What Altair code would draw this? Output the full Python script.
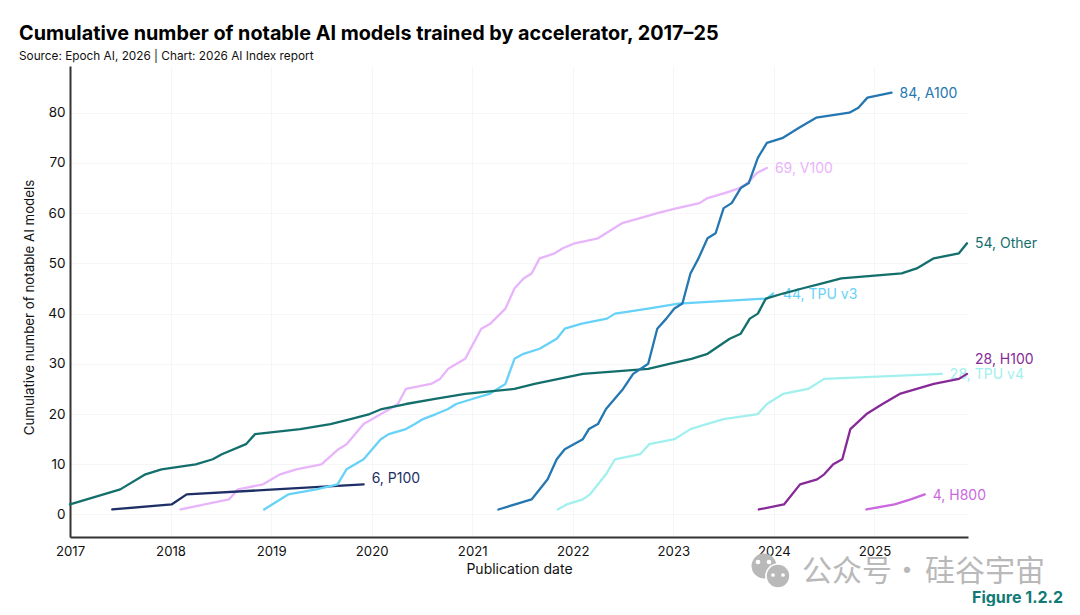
import altair as alt
import pandas as pd

TITLE = "Cumulative number of notable AI models trained by accelerator, 2017–25"
SUBTITLE = "Source: Epoch AI, 2026 | Chart: 2026 AI Index report"
FONT = "Inter"

v100_x = [2018.10, 2018.34, 2018.58, 2018.67, 2018.92, 2019.09, 2019.25, 2019.50, 2019.67, 2019.75, 2019.92, 2020.18, 2020.26, 2020.34, 2020.59, 2020.68, 2020.76, 2020.93, 2021.09, 2021.18, 2021.33, 2021.42, 2021.51, 2021.59, 2021.67, 2021.82, 2021.90, 2022.02, 2022.25, 2022.49, 2022.67, 2022.84, 2023.04, 2023.26, 2023.34, 2023.51, 2023.66, 2023.74, 2023.83, 2023.93]
v100_y = [1, 2, 3, 5, 6, 8, 9, 10, 13, 14, 18, 21, 22, 25, 26, 27, 29, 31, 37, 38, 41, 45, 47, 48, 51, 52, 53, 54, 55, 58, 59, 60, 61, 62, 63, 64, 65, 66, 68, 69]
p100_x = [2017.42, 2018.01, 2018.16, 2019.04, 2019.92]
p100_y = [1, 2, 4, 5, 6]
v4_x = [2021.85, 2021.94, 2022.10, 2022.17, 2022.33, 2022.42, 2022.67, 2022.76, 2023.01, 2023.17, 2023.33, 2023.50, 2023.84, 2023.93, 2024.09, 2024.34, 2024.50, 2025.67]
v4_y = [1, 2, 3, 4, 8, 11, 12, 14, 15, 17, 18, 19, 20, 22, 24, 25, 27, 28]
v3_x = [2018.93, 2019.17, 2019.45, 2019.66, 2019.75, 2019.92, 2020.09, 2020.17, 2020.34, 2020.43, 2020.51, 2020.64, 2020.76, 2020.84, 2021.00, 2021.17, 2021.25, 2021.33, 2021.42, 2021.51, 2021.67, 2021.84, 2021.92, 2022.09, 2022.34, 2022.42, 2022.75, 2023.05, 2023.93, 2023.99]
v3_y = [1, 4, 5, 6, 9, 11, 15, 16, 17, 18, 19, 20, 21, 22, 23, 24, 25, 26, 31, 32, 33, 35, 37, 38, 39, 40, 41, 42, 43, 44]
h800_x = [2024.92, 2025.20, 2025.36, 2025.50]
h800_y = [1, 2, 3, 4]
other_x = [2017.00, 2017.50, 2017.75, 2017.91, 2018.25, 2018.42, 2018.51, 2018.75, 2018.84, 2019.29, 2019.59, 2019.79, 2019.98, 2020.10, 2020.34, 2020.63, 2020.93, 2021.42, 2021.62, 2021.86, 2022.10, 2022.75, 2022.96, 2023.18, 2023.34, 2023.56, 2023.67, 2023.76, 2023.84, 2023.92, 2024.09, 2024.28, 2024.48, 2024.67, 2025.27, 2025.42, 2025.59, 2025.84, 2025.92]
other_y = [2, 5, 8, 9, 10, 11, 12, 14, 16, 17, 18, 19, 20, 21, 22, 23, 24, 25, 26, 27, 28, 29, 30, 31, 32, 35, 36, 39, 40, 43, 44, 45, 46, 47, 48, 49, 51, 52, 54]
a100_x = [2021.26, 2021.59, 2021.75, 2021.84, 2021.92, 2022.10, 2022.16, 2022.25, 2022.33, 2022.50, 2022.60, 2022.75, 2022.84, 2022.93, 2023.01, 2023.09, 2023.17, 2023.25, 2023.34, 2023.42, 2023.50, 2023.58, 2023.67, 2023.75, 2023.84, 2023.93, 2024.09, 2024.25, 2024.42, 2024.75, 2024.84, 2024.93, 2025.17]
a100_y = [1, 3, 7, 11, 13, 15, 17, 18, 21, 25, 28, 30, 37, 39, 41, 42, 48, 51, 55, 56, 61, 62, 65, 66, 71, 74, 75, 77, 79, 80, 81, 83, 84]
h100_x = [2023.85, 2024.10, 2024.26, 2024.43, 2024.50, 2024.59, 2024.68, 2024.76, 2024.92, 2025.08, 2025.25, 2025.59, 2025.84, 2025.92]
h100_y = [1, 2, 6, 7, 8, 10, 11, 17, 20, 22, 24, 26, 27, 28]

series = [
    ("V100", v100_x, v100_y, "#e8b4fa"),
    ("P100", p100_x, p100_y, "#1e2f66"),
    ("TPU v4", v4_x, v4_y, "#a2f0ee"),
    ("TPU v3", v3_x, v3_y, "#67d2f7"),
    ("H800", h800_x, h800_y, "#cb68e0"),
    ("Other", other_x, other_y, "#136f6c"),
    ("A100", a100_x, a100_y, "#2577b2"),
    ("H100", h100_x, h100_y, "#872a98"),
]
label_dx = {"V100": 8, "P100": 8, "TPU v4": 8, "TPU v3": 10, "H800": 8, "Other": 8, "A100": 8, "H100": 8}
label_dy = {"V100": 1, "P100": -5, "TPU v4": 1, "TPU v3": 1, "H800": 2, "Other": 1, "A100": 1, "H100": -14}

names = [s[0] for s in series]
colors = [s[3] for s in series]
lines = pd.DataFrame(
    [{"s": n, "x": a, "y": b} for n, xs, ys, _ in series for a, b in zip(xs, ys)]
)

x_scale = alt.Scale(domain=[2017, 2025.93], nice=False)
y_scale = alt.Scale(domain=[-4.48, 89.3], nice=False)
c_scale = alt.Scale(domain=names, range=colors)

base = alt.Chart(lines).mark_line(strokeWidth=2.3, strokeJoin="round", strokeCap="round", clip=False).encode(
    x=alt.X("x:Q", scale=x_scale, title="Publication date",
            axis=alt.Axis(values=list(range(2017, 2026)), format="d", labelFontSize=13.2, labelColor="#111111",
                          titleFontSize=14, titleColor="#111111", titleFontWeight="normal", titleFont=FONT, labelFont=FONT,
                          tickSize=0, labelPadding=8, titlePadding=5, labelFlush=False, labelBound=False,
                          domainColor="#333333", domainWidth=2, gridColor="#f6f6f6", gridWidth=1, labelOverlap=False)),
    y=alt.Y("y:Q", scale=y_scale, title="Cumulative number of notable AI models",
            axis=alt.Axis(values=list(range(0, 81, 10)), labelFontSize=13.5, labelColor="#111111",
                          titleFontSize=13.3, titleColor="#111111", titleFontWeight="normal", titleFont=FONT, labelFont=FONT,
                          tickSize=0, labelPadding=5, titlePadding=11, titleY=241,
                          domainColor="#333333", domainWidth=2, gridColor="#f6f6f6", gridWidth=1)),
    color=alt.Color("s:N", scale=c_scale, legend=None, sort=None),
    detail="s:N",
)

label_layers = []
for n, xs, ys, c in series:
    d = pd.DataFrame({"x": [xs[-1]], "y": [ys[-1]], "t": [f"{ys[-1]}, {n}"]})
    label_layers.append(
        alt.Chart(d).mark_text(align="left", baseline="middle", fontSize=14, font=FONT, color=c,
                               dx=label_dx[n], dy=label_dy.get(n, 0), clip=False).encode(
            x=alt.X("x:Q", scale=x_scale), y=alt.Y("y:Q", scale=y_scale), text="t:N")
    )

def note(txt, px, py, size, color, weight="normal", font=FONT, align="left"):
    return alt.Chart(pd.DataFrame({"t": [txt]})).mark_text(
        align=align, baseline="middle", fontSize=size, color=color, fontWeight=weight, font=font, clip=False
    ).encode(x=alt.value(px - 70), y=alt.value(py - 66), text="t:N")

def dot(px, py, size, color):
    return alt.Chart(pd.DataFrame({"k": [0]})).mark_point(filled=True, opacity=1, size=size, color=color, clip=False).encode(
        x=alt.value(px - 70), y=alt.value(py - 66))

wm = "#b9b9b9"
marks = [
    dot(764, 566, 620, wm), dot(778, 576, 660, "#ffffff"), dot(778, 576, 500, wm),
    dot(758, 562, 22, "#ffffff"), dot(769, 562, 22, "#ffffff"),
    dot(773, 575, 14, "#ffffff"), dot(783, 575, 14, "#ffffff"),
    note("公众号", 802, 572, 30, wm, font="Noto Sans CJK SC"),
    note("·", 907, 572, 30, wm, font="Noto Sans CJK SC", align="center"),
    note("硅谷宇宙", 925, 572, 30, wm, font="Noto Sans CJK SC"),
    note("Figure 1.2.2", 1063, 598, 16, "#127a76", weight="bold", align="right"),
]

chart = alt.layer(*label_layers, base, *marks).properties(
    width=898, height=471,
    padding={"left": 62, "top": 58, "right": 104, "bottom": 69},
    autosize=alt.AutoSizeParams(type="none"),
    title=alt.TitleParams(TITLE, subtitle=SUBTITLE, anchor="start", frame="group", dx=-51, offset=3,
                          font=FONT, fontSize=19.8, fontWeight="bold", color="#000000",
                          subtitleFont=FONT, subtitleFontSize=11.8, subtitleColor="#111111", subtitlePadding=7),
).configure_view(stroke=None)

chart.save("out.html", embed_options={"renderer": "svg", "actions": False})
